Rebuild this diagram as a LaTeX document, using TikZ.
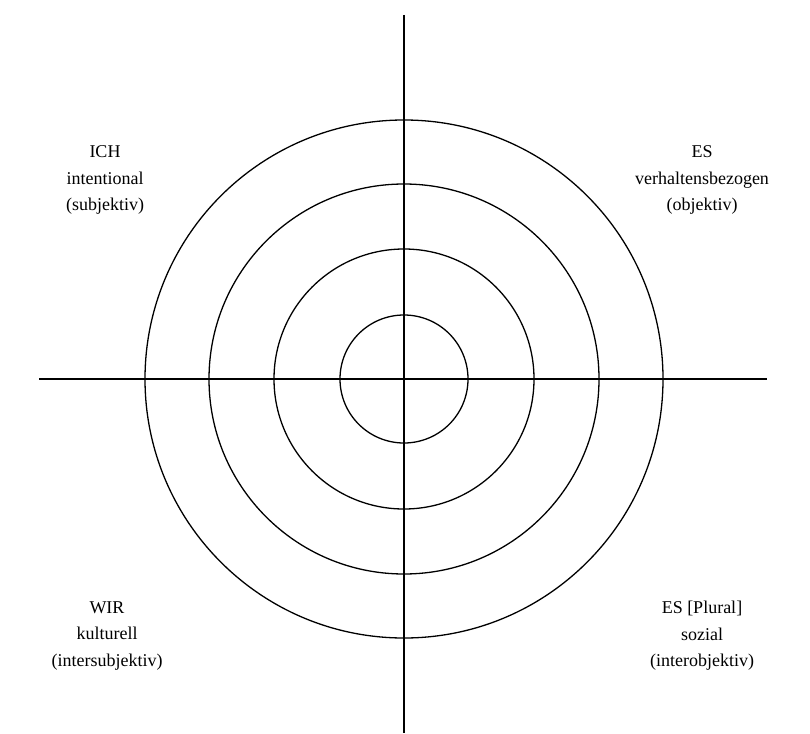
\documentclass[tikz,border=0pt]{standalone}
\usepackage{fontspec}
\setmainfont{Liberation Serif}
\usepackage{tikz}
\usetikzlibrary{positioning}

\begin{document}
\begin{tikzpicture}[x=1pt, y=-1pt, line width=1.3pt,
    quadrant/.style={align=center, inner sep=0pt, font=\fontsize{18}{26.5}\selectfont}]
    \useasboundingbox (0,0) rectangle (810,733);
    % axes
    \coordinate (m) at (404,379);
    \draw (404,15) -- (404,733);
    \draw (39,379) -- (767,379);
    % rings
    \foreach \r in {64,130,195,259}
        \draw (m) circle[radius=\r];
    % labels
    \node [quadrant] (ich) at (105,180) {ICH\\intentional\\(subjektiv)};
    \node [quadrant] (es) at (702,180) {ES\\verhaltensbezogen\\(objektiv)};
    \node [quadrant] (wir) at (107,636) {WIR\\kulturell\\(intersubjektiv)};
    \node [quadrant] (esplural) at (702,636) {ES [Plural]\\sozial\\(interobjektiv)};
\end{tikzpicture}
\end{document}
